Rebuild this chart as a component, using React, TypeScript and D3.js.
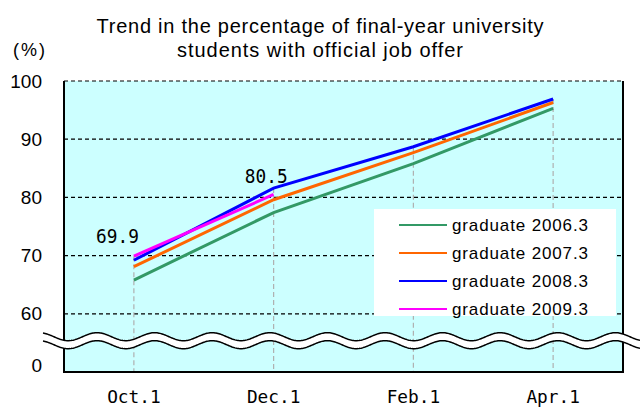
import { area, line, range, scaleLinear, scalePoint } from "d3";
import type { ReactElement } from "react";

const categories = ["Oct.1", "Dec.1", "Feb.1", "Apr.1"];
const seriesNames = ["graduate 2006.3", "graduate 2007.3", "graduate 2008.3", "graduate 2009.3"];
const values2006 = [65.8, 77.4, 85.8, 95.3];
const values2007 = [68.1, 79.6, 87.7, 96.3];
const values2008 = [69.2, 81.6, 88.7, 96.9];
const values2009 = [69.9, 80.5];
const yTicks = [60, 70, 80, 90, 100];
const yBaseLabel = "0";

const colors = ["#339966", "#ff6600", "#0000ff", "#ff00ff"];
const allSeries = [values2006, values2007, values2008, values2009];

const width = 640;
const height = 408;
const plot = { left: 64, right: 623, top: 81, bottom: 372 } as const;
const mono = "'DejaVu Sans Mono', monospace";
const sans = "'Liberation Sans', Arial, sans-serif";
const monoCharW = 10.7;

const App = (): ReactElement => {
  const x = scalePoint<string>().domain(categories).range([plot.left, plot.right]).padding(0.5);
  const y = scaleLinear().domain([50, 100]).range([plot.bottom, plot.top]);

  const lineGen = line<number>()
    .x((_, i) => x(categories[i]) ?? 0)
    .y((d) => y(d));

  // axis break wave
  const period = 57.6;
  const amp = 4;
  const waveXs = range(43, width + 1, 1);
  const waveTop = (wx: number): number => 336.7 - amp * Math.cos((2 * Math.PI * (wx - 97)) / period);
  const waveBot = (wx: number): number => waveTop(wx) + 8;
  const bandArea = area<number>().x((d) => d).y0(waveTop).y1(waveBot);
  const topWave = line<number>().x((d) => d).y(waveTop);
  const botWave = line<number>().x((d) => d).y(waveBot);

  const labelOffsets = [
    { dx: 5, dy: -13 },
    { dx: 14, dy: -11.5 },
  ];

  return (
    <svg width={width} height={height} style={{ position: "absolute", left: 0, top: 0 }}>
      <rect x={0} y={0} width={width} height={height} fill="#ffffff" />
      <text x={320} y={33} textAnchor="middle" fontFamily={sans} fontSize={20} fill="#000" textLength={447} lengthAdjust="spacing">
        Trend in the percentage of final-year university
      </text>
      <text x={320} y={57} textAnchor="middle" fontFamily={sans} fontSize={20} fill="#000" textLength={286} lengthAdjust="spacing">
        students with official job offer
      </text>
      <text x={30} y={56} textAnchor="middle" fontFamily={sans} fontSize={18} fill="#000" letterSpacing={2}>
        (%)
      </text>

      <rect
        x={plot.left}
        y={plot.top}
        width={plot.right - plot.left}
        height={plot.bottom - plot.top}
        fill="#ccffff"
      />

      {yTicks.map((t) => (
        <g key={`y-${t}`}>
          <line
            x1={plot.left}
            x2={plot.right}
            y1={y(t)}
            y2={y(t)}
            stroke="#000"
            strokeWidth={1.2}
            strokeDasharray="4 3"
          />
          <text x={42} y={y(t)} textAnchor="end" dominantBaseline="central" fontFamily={sans} fontSize={19} fill="#000">
            {t}
          </text>
        </g>
      ))}
      <text x={42} y={y(50) - 7} textAnchor="end" dominantBaseline="central" fontFamily={sans} fontSize={19} fill="#000">
        {yBaseLabel}
      </text>

      {categories.map((c, i) => {
        const top = Math.max(...allSeries.filter((s) => s[i] !== undefined).map((s) => s[i]));
        return (
          <g key={`x-${c}`}>
            <line
              x1={x(c)}
              x2={x(c)}
              y1={y(top)}
              y2={plot.bottom}
              stroke="#b0b0b0"
              strokeWidth={1.2}
              strokeDasharray="5 3"
            />
            <text
              x={x(c)}
              y={403}
              textAnchor="middle"
              fontFamily={mono}
              fontSize={18}
              fill="#000"
              textLength={c.length * monoCharW}
              lengthAdjust="spacingAndGlyphs"
            >
              {c}
            </text>
          </g>
        );
      })}

      {allSeries.map((s, i) => (
        <path key={seriesNames[i]} d={lineGen(s) ?? ""} fill="none" stroke={colors[i]} strokeWidth={3} />
      ))}

      {values2009.map((v, i) => {
        const label = v.toFixed(1);
        return (
          <text
            key={`lbl-${i}`}
            x={(x(categories[i]) ?? 0) + labelOffsets[i].dx}
            y={y(v) + labelOffsets[i].dy}
            textAnchor="end"
            fontFamily={mono}
            fontSize={19}
            fill="#000"
            textLength={label.length * monoCharW}
            lengthAdjust="spacingAndGlyphs"
          >
            {label}
          </text>
        );
      })}

      <line x1={plot.left} x2={plot.left} y1={plot.top} y2={plot.bottom} stroke="#000" strokeWidth={2} />
      <line x1={plot.right} x2={plot.right} y1={plot.top} y2={plot.bottom} stroke="#000" strokeWidth={2} />
      <line x1={plot.left - 1} x2={plot.right + 1} y1={plot.bottom} y2={plot.bottom} stroke="#000" strokeWidth={2} />

      <path d={bandArea(waveXs) ?? ""} fill="#ffffff" />
      <path d={topWave(waveXs) ?? ""} fill="none" stroke="#000" strokeWidth={1.5} />
      <path d={botWave(waveXs) ?? ""} fill="none" stroke="#000" strokeWidth={1.5} />

      <g transform="translate(374,209)">
        <rect x={0} y={0} width={242} height={107} fill="#ffffff" />
        {seriesNames.map((name, i) => (
          <g key={`leg-${name}`} transform={`translate(0,${16 + i * 28})`}>
            <line x1={25} x2={73} y1={0} y2={0} stroke={colors[i]} strokeWidth={2} />
            <text
              x={78}
              y={0}
              dominantBaseline="central"
              fontFamily={sans}
              fontSize={17}
              fill="#000"
              textLength={136}
              lengthAdjust="spacing"
            >
              {name}
            </text>
          </g>
        ))}
      </g>
    </svg>
  );
};

export default App;
